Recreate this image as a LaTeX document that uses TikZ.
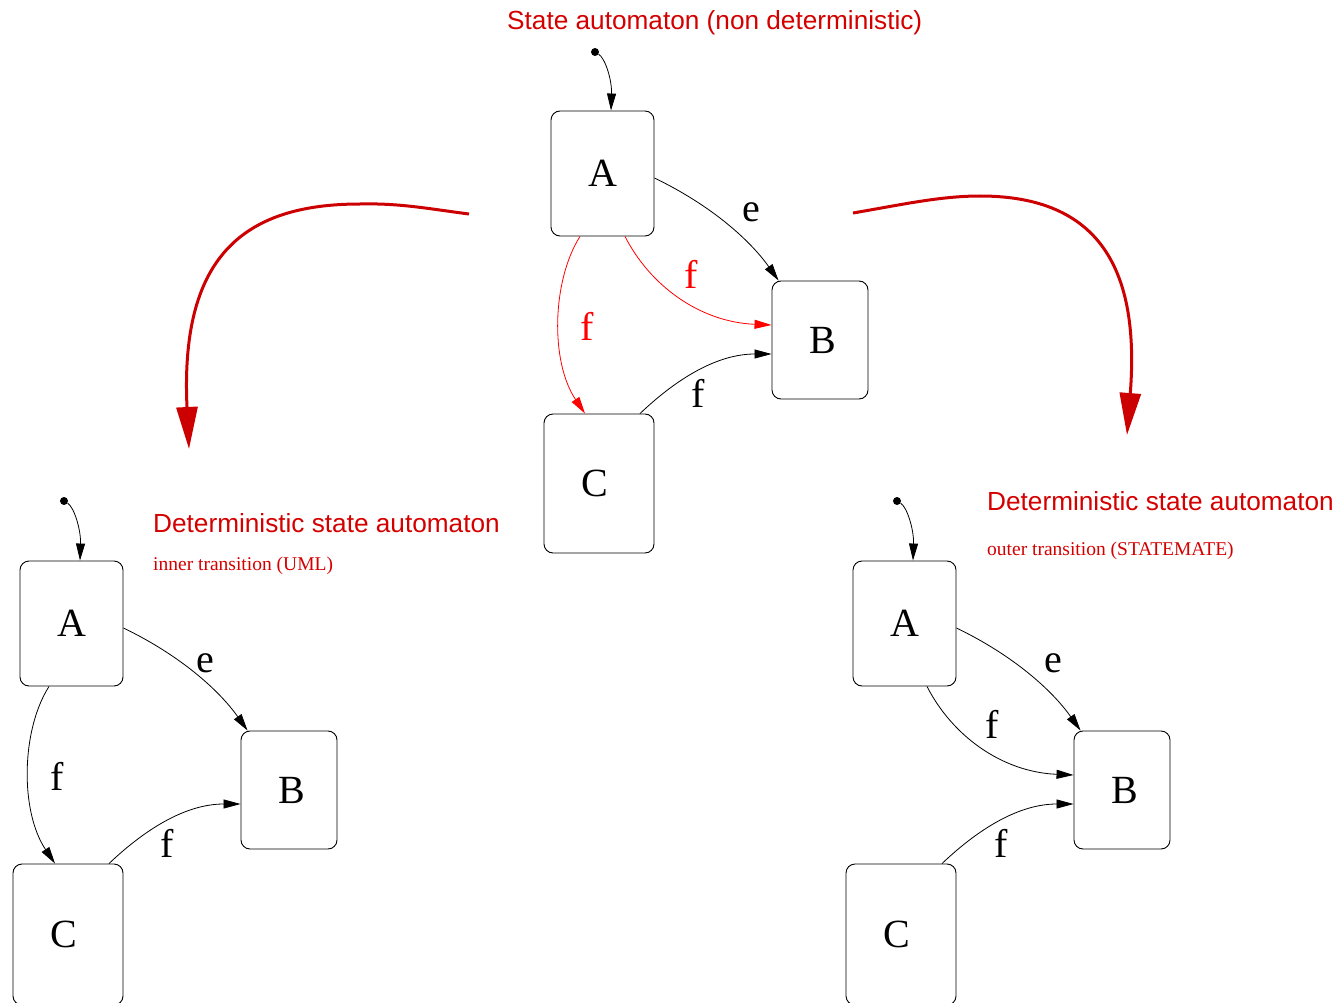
\documentclass[tikz,border=0pt]{standalone}
\usepackage{fontspec}
\setmainfont{Liberation Serif}
\newfontfamily\sansf{Liberation Sans}
\usetikzlibrary{arrows.meta}
\definecolor{titlered}{RGB}{212,0,0}
\definecolor{bigred}{RGB}{204,0,0}
\begin{document}
\begin{tikzpicture}[x=1pt,y=-1pt,
  state/.style={draw, rounded corners=9pt, line width=0.9pt, inner sep=0pt, font=\fontsize{40}{40}\selectfont},
  tr/.style={line width=0.8pt, -{Triangle[length=17pt,width=9pt]}},
  lbl/.style={font=\fontsize{40}{40}\selectfont, anchor=base, inner sep=0pt},
  initdot/.style={circle, fill, inner sep=0pt, minimum size=8pt},
  title/.style={font=\sansf\fontsize{26.2}{30}\selectfont, text=titlered, inner sep=0pt, anchor=base west},
  subtitle/.style={font=\fontsize{19.5}{22}\selectfont, text=titlered, inner sep=0pt, anchor=base west},
  bigarrow/.style={draw=bigred, line width=3pt, -{Triangle[length=42pt,width=21pt]}}]
\useasboundingbox (0,0) rectangle (1339,1003);
\clip (0,0) rectangle (1339,1003);

% ---------- top automaton ----------
\node[title] (tt) at (507,30) {State automaton (non deterministic)};
\node[state, minimum width=103pt, minimum height=125pt] (tA) at (602.5,173.5) {A};
\node[state, minimum width=96pt, minimum height=118pt] (tB) at (820,340) {B\kern-6pt};
\node[state, minimum width=110pt, minimum height=139pt] (tC) at (599,483.5) {\kern-9pt C};
\node[initdot] (tI) at (595,52) {};
\draw[tr] (tI) .. controls +(10,6) and +(1,-31) .. ([xshift=8.5pt]tA.north);
\draw[tr] ([yshift=-4.5pt]tA.east) .. controls +(56,27) and +(-29,-41) .. ([xshift=7pt]tB.north west);
\draw[tr, red] ([xshift=22.5pt]tA.south) .. controls +(25,49) and +(-72,-3) .. ([yshift=15pt]tB.west);
\draw[tr, red] ([xshift=-22.5pt]tA.south) .. controls +(-28,44) and +(-35,-52) .. ([xshift=-14pt]tC.north);
\draw[tr] ([xshift=41pt]tC.north) .. controls +(40,-38) and +(-52,0) .. ([yshift=-14pt]tB.west);
\node[lbl] (te) at (751,222) {e};
\node[lbl, text=red] (tf1) at (691,288) {f};
\node[lbl, text=red] (tf2) at (587,340) {f};
\node[lbl] (tf3) at (698,407) {f};

% ---------- big red arrows ----------
\coordinate (ls) at (469,214);
\coordinate (lp) at (360,204);
\coordinate (le) at (189,449);
\draw[bigarrow] (ls) .. controls (430,209) and (400,203) .. (lp) .. controls (240,204) and (180,260) .. (le);
\coordinate (rs) at (853,213);
\coordinate (rp) at (980,196);
\coordinate (re) at (1127,435);
\draw[bigarrow] (rs) .. controls (900,205) and (940,196) .. (rp) .. controls (1100,196) and (1140,270) .. (re);

% ---------- left automaton ----------
\node[title] (lt) at (153,532) {Deterministic state automaton};
\node[subtitle] (lsub) at (153,570) {inner transition (UML)};
\begin{scope}[shift={(-531,450)}]
\node[state, minimum width=103pt, minimum height=125pt] (lA) at (602.5,173.5) {A};
\node[state, minimum width=96pt, minimum height=118pt] (lB) at (820,340) {B\kern-6pt};
\node[state, minimum width=110pt, minimum height=141pt] (lC) at (599,484.5) {\kern-9pt C};
\node[initdot] (lI) at (595,51) {};
\draw[tr] (lI) .. controls +(10,6) and +(1,-31) .. ([xshift=8.5pt]lA.north);
\draw[tr] ([yshift=-4.5pt]lA.east) .. controls +(56,27) and +(-29,-41) .. ([xshift=7pt]lB.north west);
\draw[tr] ([xshift=-22.5pt]lA.south) .. controls +(-28,44) and +(-35,-52) .. ([xshift=-13pt]lC.north);
\draw[tr] ([xshift=41pt]lC.north) .. controls +(40,-38) and +(-52,0) .. ([yshift=-14pt]lB.west);
\node[lbl] (le1) at (736,222) {e};
\node[lbl] (lf1) at (588,340) {f};
\node[lbl] (lf2) at (698,407) {f};
\end{scope}

% ---------- right automaton ----------
\node[title] (rt) at (987,510) {Deterministic state automaton};
\node[subtitle] (rsub) at (987,555) {outer transition (STATEMATE)};
\begin{scope}[shift={(302,450)}]
\node[state, minimum width=103pt, minimum height=125pt] (rA) at (602.5,173.5) {A};
\node[state, minimum width=96pt, minimum height=118pt] (rB) at (820,340) {B\kern-6pt};
\node[state, minimum width=110pt, minimum height=141pt] (rC) at (599,484.5) {\kern-9pt C};
\node[initdot] (rI) at (595,51) {};
\draw[tr] (rI) .. controls +(10,6) and +(1,-31) .. ([xshift=8.5pt]rA.north);
\draw[tr] ([yshift=-4.5pt]rA.east) .. controls +(56,27) and +(-29,-41) .. ([xshift=7pt]rB.north west);
\draw[tr] ([xshift=22.5pt]rA.south) .. controls +(25,49) and +(-72,-3) .. ([yshift=15pt]rB.west);
\draw[tr] ([xshift=41pt]rC.north) .. controls +(40,-38) and +(-52,0) .. ([yshift=-14pt]rB.west);
\node[lbl] (re1) at (751,222) {e};
\node[lbl] (rf1) at (690,288) {f};
\node[lbl] (rf2) at (699,407) {f};
\end{scope}
\end{tikzpicture}
\end{document}
